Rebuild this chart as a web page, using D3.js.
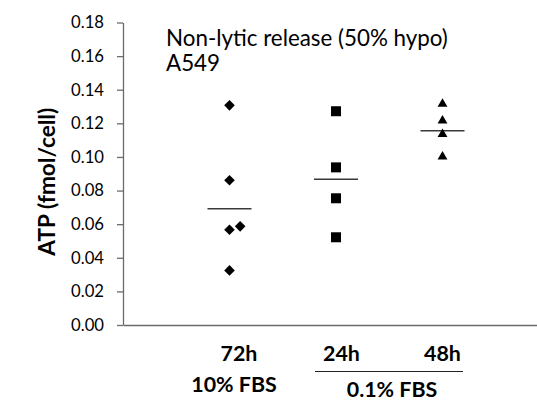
<!DOCTYPE html>
<html>
<head>
<meta charset="utf-8">
<script src="https://cdn.jsdelivr.net/npm/d3@7"></script>
<style>
  html, body { margin: 0; padding: 0; background: #fff; }
  svg { display: block; font-family: Lato, 'Open Sans', sans-serif; }
</style>
</head>
<body>
<svg id="chart" width="537" height="401"></svg>
<script>
// values
const diamondX = [1, 1, 1, 1.1, 1];
const diamondY = [0.1307, 0.0861, 0.0567, 0.0587, 0.0325];
const squareX = [2, 2, 2, 2];
const squareY = [0.1272, 0.0938, 0.0754, 0.0522];
const triangleX = [3, 3, 3, 3];
const triangleY = [0.1315, 0.1216, 0.1135, 0.1001];
const meanX = [1, 2, 3];
const meanY = [0.0692, 0.0867, 0.1156];

const yTicks = [0, 0.02, 0.04, 0.06, 0.08, 0.10, 0.12, 0.14, 0.16, 0.18];
const timeLabels = ['72h', '24h', '48h'];
const serumLabels = ['10% FBS', '0.1% FBS'];
const titleLines = ['Non-lytic release (50% hypo)', 'A549'];
const yTitle = 'ATP (fmol/cell)';

const svg = d3.select('#chart');
const axisColor = '#6b6b6b';

// scale a font size so a text node reaches the width seen in the picture
function fitSize(sel, width, base) {
  const w = sel.node().getComputedTextLength();
  return base * width / w;
}

const x = d3.scaleLinear().domain([0, 4]).range([123, 549]);
const y = d3.scaleLinear().domain([0, 0.18]).range([325, 22.5]);

// y axis
const gy = svg.append('g')
  .attr('transform', `translate(${x(0)},0)`)
  .call(d3.axisLeft(y)
    .tickValues(yTicks)
    .tickFormat(d3.format('.2f'))
    .tickSize(6)
    .tickSizeOuter(0)
    .tickPadding(13))
  .attr('font-family', null)
  .attr('font-size', null);
gy.select('.domain').attr('stroke', axisColor).attr('stroke-width', 1.3);
gy.selectAll('.tick line').attr('stroke', axisColor).attr('stroke-width', 1.3);
const tickText = gy.selectAll('.tick text').attr('fill', '#000').style('font-size', '15px');
const tickSize = fitSize(tickText.filter((d, i) => i === yTicks.length - 1), 33, 15);
tickText.style('font-size', tickSize + 'px');

// x axis, plain line, no ticks
const gx = svg.append('g')
  .attr('transform', `translate(0,${y(0)})`)
  .call(d3.axisBottom(x).tickValues([]).tickSizeOuter(0));
gx.select('.domain').attr('stroke', axisColor).attr('stroke-width', 1.3);

// y title
const yt = svg.append('text')
  .attr('transform', `translate(55,${(y(0) + y(0.18)) / 2 + 8}) rotate(-90)`)
  .attr('text-anchor', 'middle')
  .style('font-size', '16px')
  .style('font-weight', 'bold')
  .text(yTitle);
yt.style('font-size', fitSize(yt, 148, 16) + 'px');

// chart title
const tt = svg.append('g').selectAll('text')
  .data(titleLines)
  .join('text')
  .attr('x', 166)
  .attr('y', (d, i) => 46 + i * 25)
  .style('font-size', '17px')
  .text(d => d);
tt.style('font-size', fitSize(tt.filter((d, i) => i === 0), 282, 17) + 'px');

// mean lines
svg.append('g').selectAll('line')
  .data(meanX.map((d, i) => ({ x: d, y: meanY[i] })))
  .join('line')
  .attr('x1', d => x(d.x) - 22)
  .attr('x2', d => x(d.x) + 22)
  .attr('y1', d => y(d.y))
  .attr('y2', d => y(d.y))
  .attr('stroke', '#3a3a3a')
  .attr('stroke-width', 1.6);

// markers
const series = [
  { xs: diamondX, ys: diamondY, type: d3.symbolSquare, size: 56, rot: 45 },
  { xs: squareX, ys: squareY, type: d3.symbolSquare, size: 100, rot: 0 },
  { xs: triangleX, ys: triangleY, type: d3.symbolTriangle, size: 42, rot: 0 },
];
series.forEach(s => {
  svg.append('g').selectAll('path')
    .data(s.xs.map((d, i) => ({ x: d, y: s.ys[i] })))
    .join('path')
    .attr('d', d3.symbol().type(s.type).size(s.size))
    .attr('transform', d => `translate(${x(d.x)},${y(d.y)}) rotate(${s.rot})`)
    .attr('fill', '#000');
});

// category labels under the axis
const lab = svg.append('g')
  .style('font-weight', 'bold')
  .style('font-size', '17px')
  .attr('text-anchor', 'middle');
const t72 = lab.append('text').attr('x', 239).attr('y', 361).text(timeLabels[0]);
lab.append('text').attr('x', 341.5).attr('y', 361).text(timeLabels[1]);
lab.append('text').attr('x', 442.5).attr('y', 361).text(timeLabels[2]);
const s10 = lab.append('text').attr('x', 234).attr('y', 391.5).text(serumLabels[0]);
lab.append('text').attr('x', 392).attr('y', 397).text(serumLabels[1]);
const labSize = (fitSize(t72, 38, 17) + fitSize(s10, 83, 17)) / 2;
lab.style('font-size', labSize + 'px');
svg.append('line')
  .attr('x1', 315).attr('x2', 463)
  .attr('y1', 371.5).attr('y2', 371.5)
  .attr('stroke', '#222')
  .attr('stroke-width', 1.2);
</script>
</body>
</html>
